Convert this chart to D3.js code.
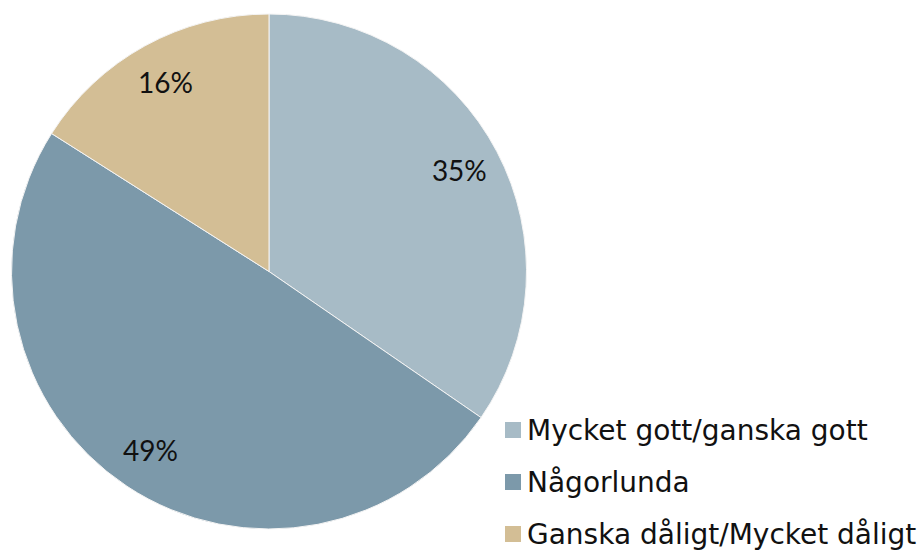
<!DOCTYPE html>
<html lang="sv">
<head>
    <meta charset="UTF-8">
    <title>Pie</title>
    <script src="https://d3js.org/d3.v7.min.js"></script>
    <style>
        body { margin: 0; padding: 0; background: #fff; }
        svg { display: block; }
        .slice-label { font-family: Lato, "Open Sans", sans-serif; font-size: 28px; fill: #111; }
        .legend text { font-family: "DejaVu Sans", sans-serif; font-size: 28px; fill: #111; }
    </style>
</head>
<body>
    <div id="chart"></div>
    <script>
        // Data
        const categories = ["Mycket gott/ganska gott", "Någorlunda", "Ganska dåligt/Mycket dåligt"];
        const values = [34.6, 49.4, 16.0];
        const labels = ["35%", "49%", "16%"];
        const colors = ["#A7BBC6", "#7C99AA", "#D3BE95"];

        const width = 919, height = 552;
        const cx = 269, cy = 271.5, radius = 257.5;

        const svg = d3.select("#chart")
            .append("svg")
            .attr("width", width)
            .attr("height", height);

        const g = svg.append("g")
            .attr("transform", `translate(${cx},${cy})`);

        const pie = d3.pie().sort(null).value(d => d);
        const arcs = pie(values);

        const arc = d3.arc().innerRadius(0).outerRadius(radius);
        const labelArc = d3.arc().innerRadius(radius * 0.835).outerRadius(radius * 0.835);

        const color = d3.scaleOrdinal().domain(categories).range(colors);

        g.selectAll(".slice")
            .data(arcs)
            .enter()
            .append("path")
            .attr("class", "slice")
            .attr("d", arc)
            .attr("fill", (d, i) => color(categories[i]))
            .attr("stroke", "#f4f4f4")
            .attr("stroke-width", 1);

        g.selectAll(".slice-label")
            .data(arcs)
            .enter()
            .append("text")
            .attr("class", "slice-label")
            .attr("transform", d => `translate(${labelArc.centroid(d)})`)
            .attr("text-anchor", "middle")
            .attr("dy", "0.35em")
            .text((d, i) => labels[i]);

        // Legend
        const legend = svg.selectAll(".legend")
            .data(categories)
            .enter()
            .append("g")
            .attr("class", "legend")
            .attr("transform", (d, i) => `translate(505,${430 + i * 52})`);

        legend.append("rect")
            .attr("x", 0)
            .attr("y", -8)
            .attr("width", 16)
            .attr("height", 16)
            .attr("fill", color);

        legend.append("text")
            .attr("x", 22)
            .attr("y", 0)
            .attr("dy", "0.35em")
            .text(d => d);
    </script>
</body>
</html>
